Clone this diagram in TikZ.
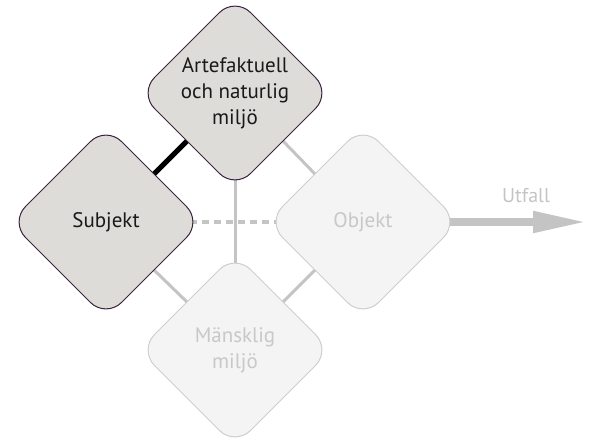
\documentclass[tikz,border=0pt]{standalone}
\usepackage{fontspec}
\setmainfont{PT Sans}
\usetikzlibrary{shapes.geometric,arrows.meta,backgrounds}
\definecolor{aktivfyll}{HTML}{DEDCD8}
\definecolor{aktivkant}{HTML}{3B2340}
\definecolor{passivfyll}{HTML}{F5F4F4}
\definecolor{passivkant}{HTML}{D2CCD2}
\definecolor{passivtext}{HTML}{C8C8C8}
\definecolor{linje}{HTML}{C4C4C4}
\begin{document}
\begin{tikzpicture}[x=1pt,y=-1pt,
  ruta/.style={diamond, rounded corners=22pt, minimum width=192pt, minimum height=192pt,
    inner sep=0pt, outer sep=0pt, align=center, font=\fontsize{21}{26}\selectfont, line width=1pt},
  aktiv/.style={ruta, draw=aktivkant, fill=aktivfyll, text=black!90},
  passiv/.style={ruta, draw=passivkant, fill=passivfyll, text=passivtext},
  band/.style={draw=linje, line width=3pt}]
\useasboundingbox (0,0) rectangle (590,440);

\node[aktiv] (miljo) at (235,93) {Artefaktuell\\och naturlig\\milj\"o};
\node[aktiv] (subjekt) at (106,222) {Subjekt};
\node[passiv] (objekt) at (363,222) {Objekt};
\node[passiv] (manniska) at (235,350) {M\"ansklig\\milj\"o};
\coordinate (pil) at (587,222);
\node[text=linje, font=\fontsize{20}{24}\selectfont] (utfall) at (526,196) {Utfall};

\begin{scope}[on background layer]
\draw[line width=5pt] (subjekt.north east) -- (miljo.south west);
\draw[band] (miljo.south east) -- (objekt.north west);
\draw[band] (miljo.center) -- (manniska.center);
\draw[band, line width=4.5pt, dash pattern=on 7pt off 5pt] (subjekt.center) -- (objekt.center);
\draw[band] (subjekt.south east) -- (manniska.north west);
\draw[band] (objekt.south west) -- (manniska.north east);
\draw[band, line width=8pt, -{Triangle[length=54pt,width=20pt]}] (objekt.center) -- (pil);
\end{scope}
\end{tikzpicture}
\end{document}
